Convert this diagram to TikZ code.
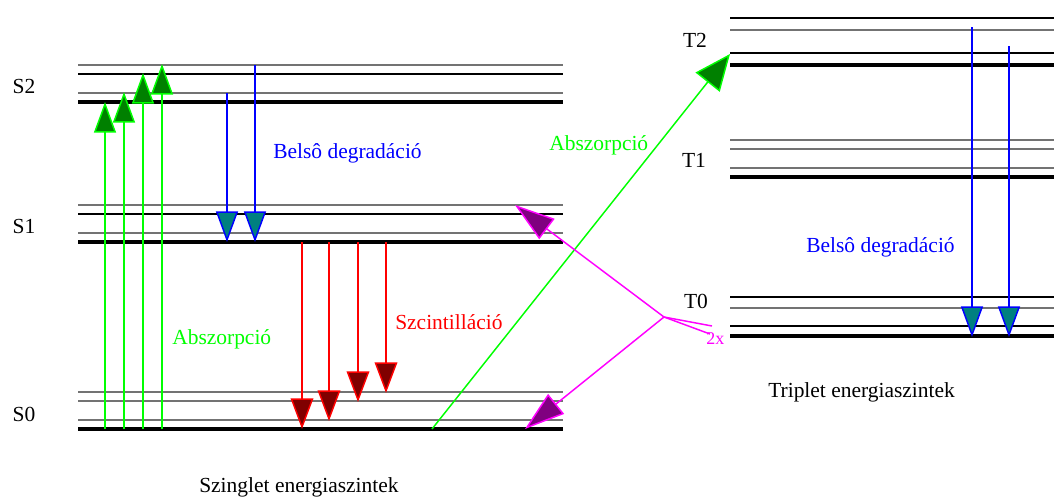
\documentclass[tikz,border=0pt]{standalone}
\usepackage{fontspec}
\setmainfont{Liberation Serif}
\usetikzlibrary{arrows.meta}
\definecolor{lvlgray}{RGB}{115,115,115}
\definecolor{darkgr}{RGB}{0,128,0}
\definecolor{brightgr}{RGB}{0,255,0}
\definecolor{tealf}{RGB}{0,128,128}
\definecolor{bluel}{RGB}{0,0,255}
\definecolor{darkred}{RGB}{128,0,0}
\definecolor{redl}{RGB}{255,0,0}
\definecolor{magl}{RGB}{255,0,255}
\definecolor{purpf}{RGB}{128,0,128}
\begin{document}
\begin{tikzpicture}[x=0.75pt,y=-0.75pt,
  lvlblack/.style={draw=black,line width=0.8pt},
  lvlgrey/.style={draw=lvlgray,line width=0.8pt},
  lvlthick/.style={draw=black,line width=2.3pt},
  lbl/.style={font=\fontsize{16.1}{19}\selectfont,inner sep=0pt},
  absarrow/.style={draw=brightgr,line width=1.1pt,-{Triangle[length=23pt,width=16.5pt,fill=darkgr]}},
  degarrow/.style={draw=bluel,line width=1.1pt,-{Triangle[length=23pt,width=16.5pt,fill=tealf]}},
  scarrow/.style={draw=redl,line width=1.1pt,-{Triangle[length=23pt,width=17pt,fill=darkred]}},
  diagarrow/.style={draw=brightgr,line width=1.1pt,-{Triangle[length=27pt,width=23pt,fill=darkgr]}},
  magarrow/.style={draw=magl,line width=1.1pt,-{Triangle[length=30pt,width=19pt,fill=purpf]}},
  magline/.style={draw=magl,line width=1.1pt}]
\useasboundingbox (0,0) rectangle (1054,497);
% singlet levels
\draw[lvlgrey] (78,65) -- (563,65);
\draw[lvlblack] (78,74) -- (563,74);
\draw[lvlgrey] (78,93) -- (563,93);
\draw[lvlthick] (78,102) -- (563,102);
\draw[lvlgrey] (78,205) -- (563,205);
\draw[lvlblack] (78,214) -- (563,214);
\draw[lvlgrey] (78,233) -- (563,233);
\draw[lvlthick] (78,242) -- (563,242);
\draw[lvlgrey] (78,392) -- (563,392);
\draw[lvlgrey] (78,401) -- (563,401);
\draw[lvlgrey] (78,420) -- (563,420);
\draw[lvlthick] (78,429) -- (563,429);
% triplet levels
\draw[lvlblack] (730,18) -- (1054,18);
\draw[lvlgrey] (730,30) -- (1054,30);
\draw[lvlblack] (730,53) -- (1054,53);
\draw[lvlthick] (730,65) -- (1054,65);
\draw[lvlgrey] (730,140) -- (1054,140);
\draw[lvlgrey] (730,149) -- (1054,149);
\draw[lvlgrey] (730,168) -- (1054,168);
\draw[lvlthick] (730,177) -- (1054,177);
\draw[lvlblack] (730,297) -- (1054,297);
\draw[lvlgrey] (730,308) -- (1054,308);
\draw[lvlblack] (730,326) -- (1054,326);
\draw[lvlthick] (730,336) -- (1054,336);
% level labels
\node[lbl] (s2) at (24,86) {S2};
\node[lbl] (s1) at (24,226) {S1};
\node[lbl] (s0) at (24,414) {S0};
\node[lbl] (t2) at (695,40) {T2};
\node[lbl] (t1) at (694,160) {T1};
\node[lbl] (t0) at (696,301) {T0};
% coordinates
\coordinate (a1s) at (105,429); \coordinate (a1e) at (105,102);
\coordinate (a2s) at (124,429); \coordinate (a2e) at (124,92);
\coordinate (a3s) at (143,429); \coordinate (a3e) at (143,73);
\coordinate (a4s) at (162,429); \coordinate (a4e) at (162,64);
\coordinate (b1s) at (227,93); \coordinate (b1e) at (227,242);
\coordinate (b2s) at (255,65); \coordinate (b2e) at (255,242);
\coordinate (r1s) at (302,242); \coordinate (r1e) at (302,429);
\coordinate (r2s) at (329,242); \coordinate (r2e) at (329,421);
\coordinate (r3s) at (358,242); \coordinate (r3e) at (358,402);
\coordinate (r4s) at (386,242); \coordinate (r4e) at (386,393);
\coordinate (ds) at (432,429); \coordinate (de) at (730,54);
\coordinate (mc) at (664,317);
\coordinate (m1) at (515,205); \coordinate (m2) at (525,429);
\coordinate (m3) at (712,326); \coordinate (m4) at (710,334);
\coordinate (tb1s) at (972,27); \coordinate (tb1e) at (972,337);
\coordinate (tb2s) at (1009,46); \coordinate (tb2e) at (1009,337);
% arrows
\draw[absarrow] (a1s) -- (a1e);
\draw[absarrow] (a2s) -- (a2e);
\draw[absarrow] (a3s) -- (a3e);
\draw[absarrow] (a4s) -- (a4e);
\draw[degarrow] (b1s) -- (b1e);
\draw[degarrow] (b2s) -- (b2e);
\draw[scarrow] (r1s) -- (r1e);
\draw[scarrow] (r2s) -- (r2e);
\draw[scarrow] (r3s) -- (r3e);
\draw[scarrow] (r4s) -- (r4e);
\draw[diagarrow] (ds) -- (de);
\draw[magarrow] (mc) -- (m1);
\draw[magarrow] (mc) -- (m2);
\draw[magline] (mc) -- (m3);
\draw[magline] (mc) -- (m4);
\draw[degarrow] (tb1s) -- (tb1e);
\draw[degarrow] (tb2s) -- (tb2e);
% texts
\node[lbl,text=bluel,anchor=base west] (bd1) at (273,158) {Belsô degradáció};
\node[lbl,text=brightgr,anchor=base west] (ab1) at (172,344) {Abszorpció};
\node[lbl,text=redl,anchor=base west] (sc) at (395,329) {Szcintilláció};
\node[lbl,text=brightgr,anchor=base west] (ab2) at (549,150) {Abszorpció};
\node[lbl,text=bluel,anchor=base west] (bd2) at (806,252) {Belsô degradáció};
\node[lbl,anchor=base west] (trip) at (768,397) {Triplet energiaszintek};
\node[lbl,anchor=base west] (szing) at (199,492) {Szinglet energiaszintek};
\node[inner sep=0pt,text=magl,font=\fontsize{13.5}{15}\selectfont,anchor=base west] (twox) at (706,344) {2x};
\end{tikzpicture}
\end{document}
